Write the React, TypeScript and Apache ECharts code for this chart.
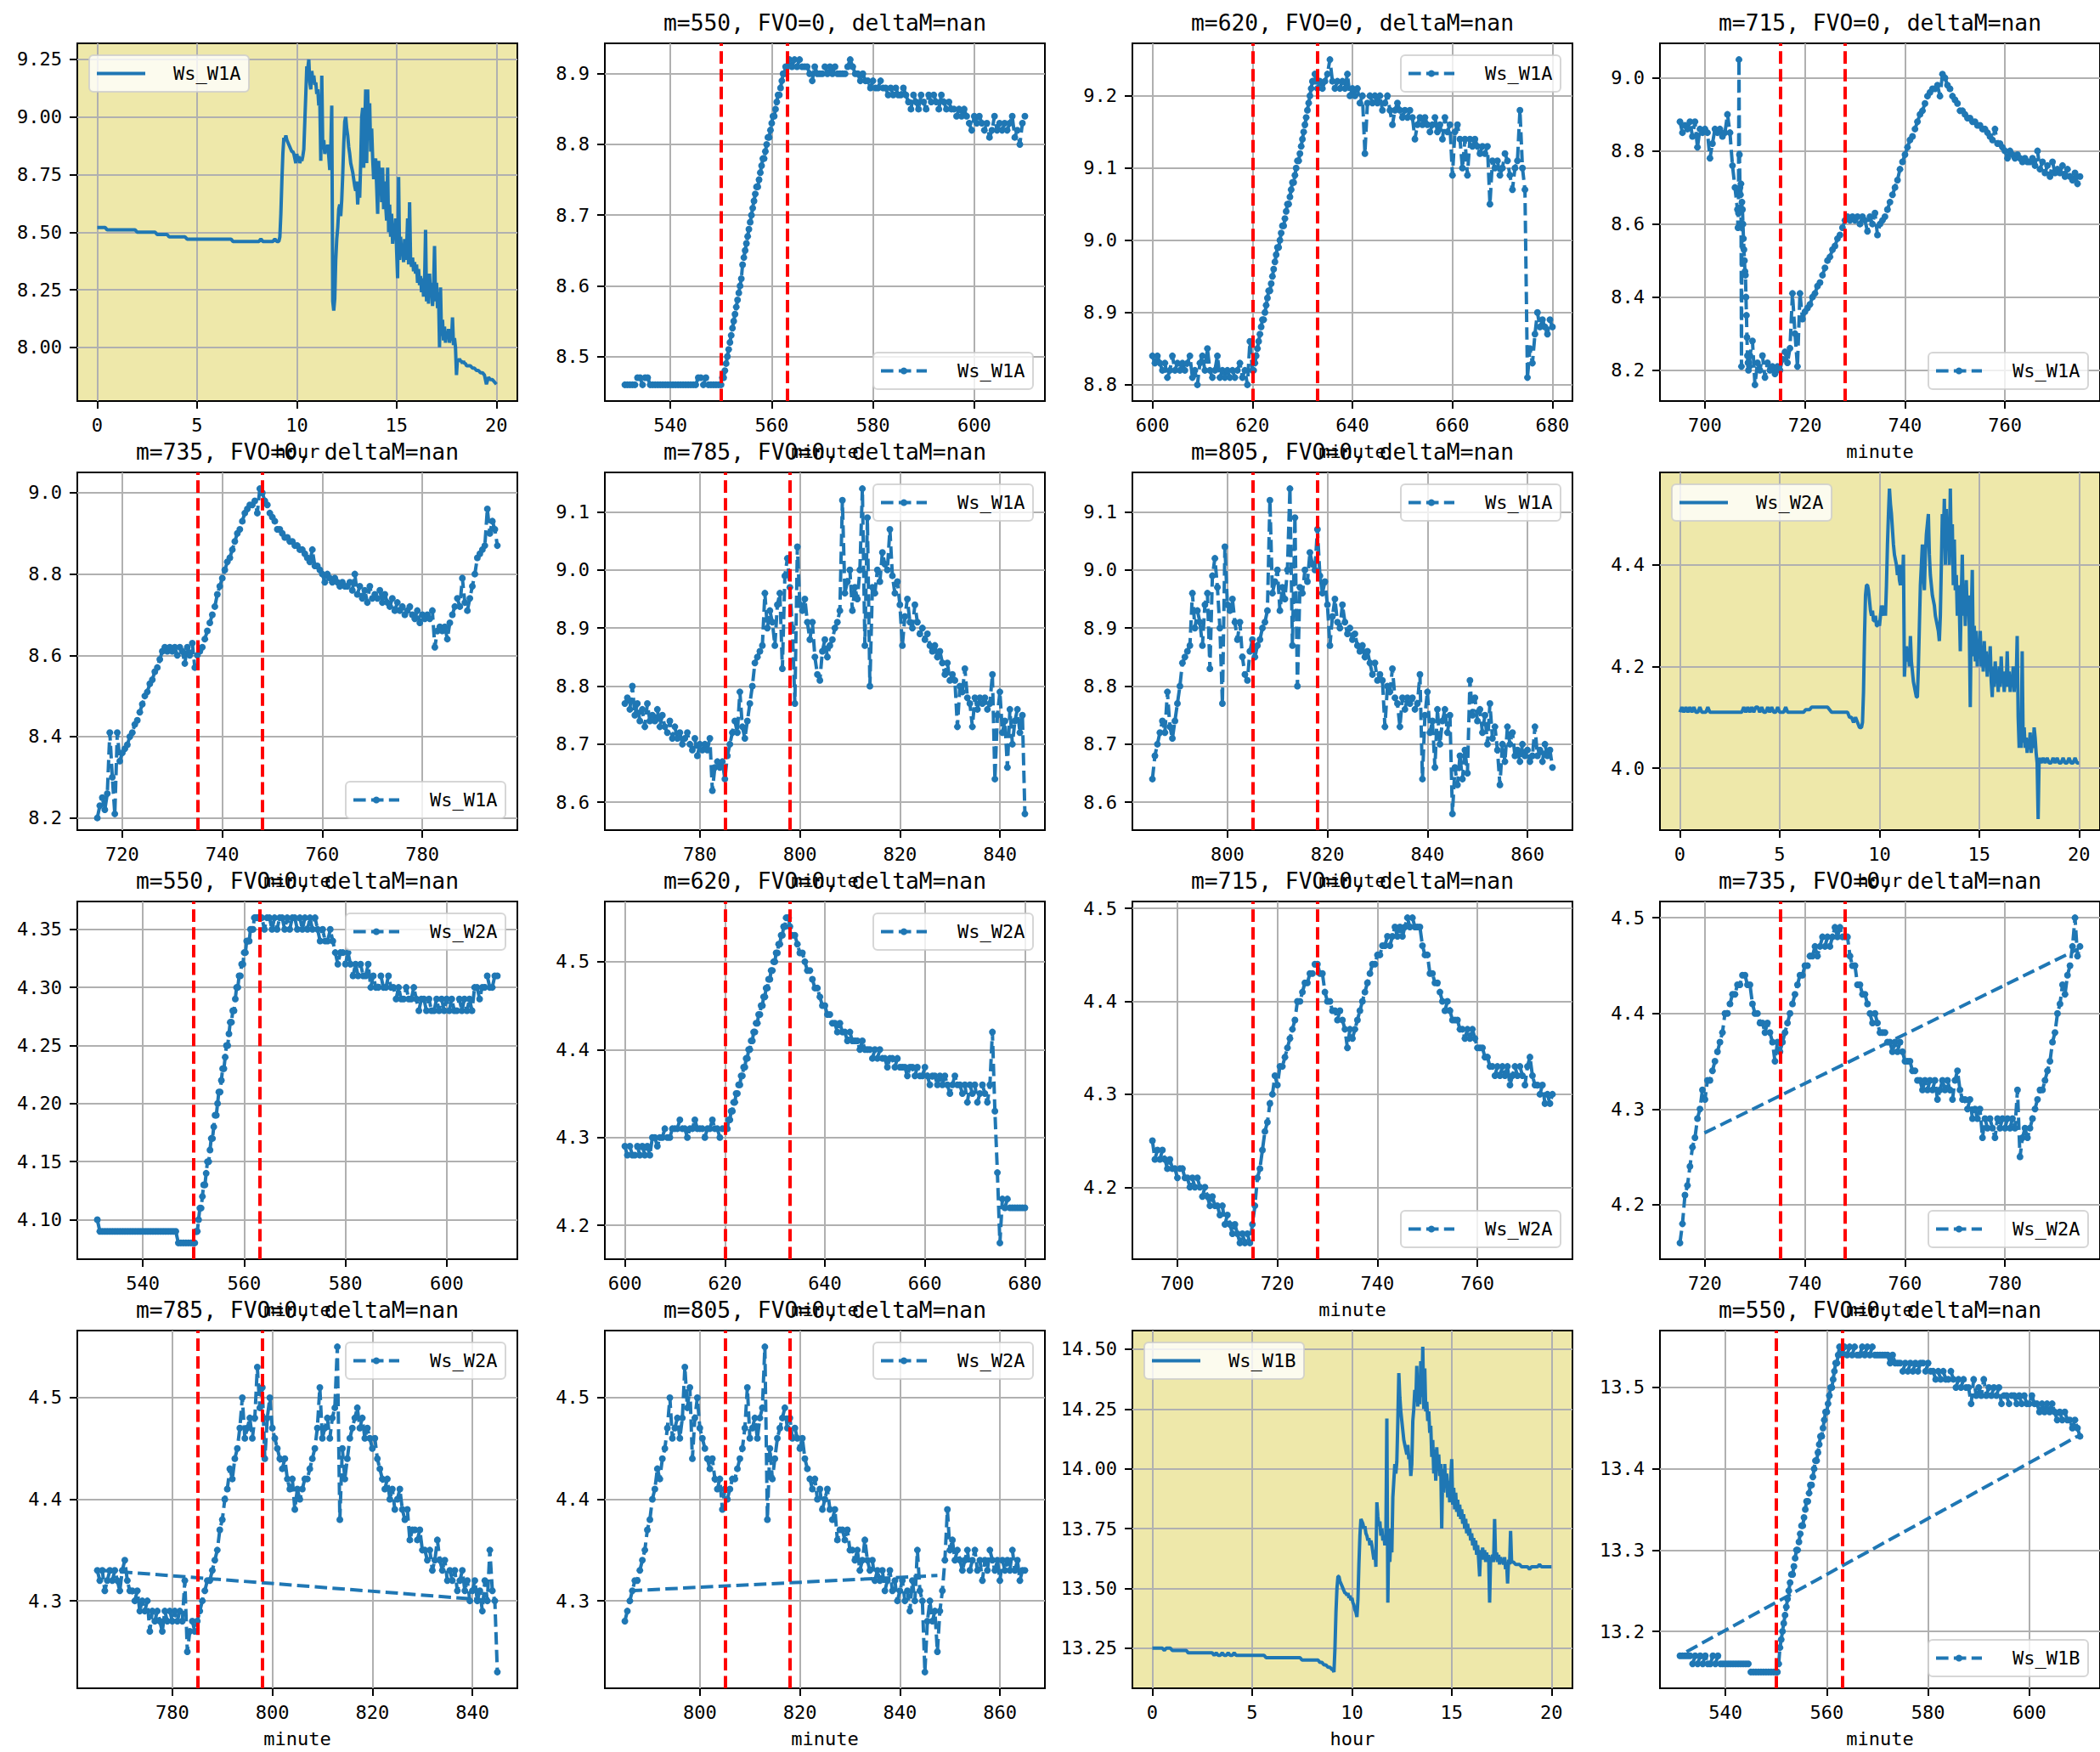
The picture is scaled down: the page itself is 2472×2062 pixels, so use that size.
import React, { useEffect, useRef } from "react";
import * as echarts from "echarts";

type Seg = [number, number, number[]];

// ---------------- data (minute panels) ----------------
const W1A_MIN: Seg[] = [
  [531, 0.5, [8.46, 8.46, 8.46, 8.46, 8.46, 8.47, 8.47, 8.46, 8.47, 8.47]],
  [536, 0.5, [8.46, 8.46, 8.46, 8.46, 8.46, 8.46, 8.46, 8.46, 8.46, 8.46]],
  [541, 0.5, [8.46, 8.46, 8.46, 8.46, 8.46, 8.46, 8.46, 8.46, 8.46, 8.47]],
  [546, 0.5, [8.47, 8.46, 8.47, 8.46, 8.46, 8.46, 8.46, 8.46, 8.46]],
  [550.25, 0.25, [8.47, 8.47, 8.48, 8.49, 8.5, 8.51, 8.52, 8.53]],
  [552.25, 0.25, [8.54, 8.55, 8.56, 8.57, 8.58, 8.59, 8.6, 8.61]],
  [554.25, 0.25, [8.63, 8.64, 8.65, 8.66, 8.67, 8.68, 8.69, 8.7]],
  [556.25, 0.25, [8.71, 8.72, 8.73, 8.74, 8.74, 8.75, 8.76, 8.77]],
  [558.25, 0.25, [8.78, 8.78, 8.79, 8.8, 8.81, 8.81, 8.82, 8.83]],
  [560.25, 0.25, [8.84, 8.84, 8.85, 8.86, 8.87, 8.87, 8.88, 8.89]],
  [562.25, 0.25, [8.9, 8.9, 8.91, 8.91]],
  [563.5, 0.5, [8.92, 8.91, 8.92, 8.91, 8.92, 8.91, 8.91, 8.91, 8.9, 8.89]],
  [568.5, 0.5, [8.91, 8.9, 8.9, 8.9, 8.91, 8.9, 8.91, 8.9, 8.91, 8.9]],
  [573.5, 0.5, [8.9, 8.9, 8.9, 8.91, 8.92, 8.91, 8.9, 8.9, 8.89, 8.9]],
  [578.5, 0.5, [8.89, 8.89, 8.88, 8.89, 8.88, 8.88, 8.89, 8.88, 8.88, 8.87]],
  [583.5, 0.5, [8.88, 8.87, 8.88, 8.87, 8.87, 8.88, 8.87, 8.86, 8.85, 8.87]],
  [588.5, 0.5, [8.86, 8.85, 8.87, 8.86, 8.85, 8.87, 8.86, 8.87, 8.86, 8.85]],
  [593.5, 0.5, [8.87, 8.86, 8.85, 8.86, 8.85, 8.85, 8.84, 8.85, 8.84, 8.85]],
  [598.5, 0.5, [8.84, 8.83, 8.82]],
  [600, 0.5, [8.84, 8.83, 8.84, 8.83, 8.82, 8.83, 8.81, 8.82, 8.84, 8.82]],
  [605, 0.5, [8.83, 8.82, 8.83, 8.82, 8.83, 8.84, 8.81, 8.82, 8.8, 8.83]],
  [610, 0.5, [8.84, 8.82, 8.85, 8.82, 8.81, 8.82, 8.84, 8.81, 8.82, 8.81]],
  [615, 0.5, [8.82, 8.81, 8.82, 8.81, 8.82, 8.83, 8.81, 8.82, 8.8, 8.86]],
  [620, 0.25, [8.82, 8.82, 8.83, 8.84, 8.85, 8.86, 8.87, 8.88]],
  [622, 0.25, [8.89, 8.89, 8.9, 8.91, 8.92, 8.93, 8.93, 8.94]],
  [624, 0.25, [8.95, 8.96, 8.97, 8.98, 8.99, 8.99, 9.0, 9.01]],
  [626, 0.25, [9.02, 9.02, 9.03, 9.04, 9.05, 9.05, 9.06, 9.07]],
  [628, 0.25, [9.08, 9.08, 9.09, 9.1, 9.11, 9.11, 9.12, 9.13]],
  [630, 0.25, [9.14, 9.15, 9.16, 9.17, 9.18, 9.19, 9.2, 9.21]],
  [632, 0.25, [9.22, 9.22, 9.23, 9.22]],
  [633, 0.5, [9.21, 9.22, 9.21, 9.22, 9.23, 9.25, 9.22, 9.21, 9.22, 9.21]],
  [638, 0.5, [9.22, 9.21, 9.23, 9.2, 9.21, 9.2, 9.21, 9.19, 9.2, 9.12]],
  [643, 0.5, [9.19, 9.2, 9.19, 9.2, 9.19, 9.2, 9.18, 9.19, 9.2, 9.18]],
  [648, 0.5, [9.16, 9.18, 9.19, 9.18, 9.17, 9.18, 9.17, 9.18, 9.17, 9.14]],
  [653, 0.5, [9.16, 9.17, 9.16, 9.17, 9.16, 9.15, 9.16, 9.17, 9.15, 9.16]],
  [658, 0.5, [9.14, 9.17, 9.15, 9.16, 9.09, 9.15, 9.16, 9.14, 9.1, 9.14]],
  [663, 0.5, [9.09, 9.14, 9.13, 9.14, 9.13, 9.12, 9.13, 9.12, 9.13, 9.05]],
  [668, 0.5, [9.11, 9.1, 9.11, 9.09, 9.1, 9.12, 9.11, 9.09, 9.07, 9.1]],
  [673, 0.5, [9.11, 9.18, 9.1, 9.07, 8.81, 8.85, 8.83, 8.87, 8.9, 8.88]],
  [678, 0.5, [8.89, 8.88, 8.87, 8.89, 8.88]],
  [695, 0.5, [8.88, 8.85, 8.87, 8.86, 8.88, 8.84, 8.88, 8.81, 8.86, 8.85]],
  [700, 0.5, [8.86, 8.85, 8.78, 8.82, 8.86, 8.85, 8.86, 8.84, 8.85, 8.9]],
  [705, 0.5, [8.85, 8.76, 8.7, 8.64]],
  [706.6, 0.1, [8.59, 8.63, 9.05, 8.79, 8.7, 8.68, 8.71, 8.21, 8.66, 8.64,
    8.6, 8.56, 8.53, 8.5, 8.47, 8.46, 8.4, 8.35, 8.29, 8.24,
    8.22, 8.2, 8.22, 8.21, 8.24]],
  [709.5, 0.5, [8.28, 8.16, 8.22, 8.2, 8.24, 8.18, 8.22, 8.2, 8.21, 8.19]],
  [714.5, 0.5, [8.21, 8.2, 8.23, 8.25, 8.22, 8.26, 8.41, 8.3, 8.21, 8.41]],
  [719.5, 0.5, [8.34, 8.36, 8.37, 8.38, 8.4, 8.41, 8.43, 8.44, 8.46, 8.48]],
  [724.5, 0.5, [8.5, 8.51, 8.53, 8.54, 8.56, 8.57, 8.59, 8.61, 8.62, 8.61]],
  [729.5, 0.5, [8.62, 8.61, 8.62, 8.6, 8.62, 8.61, 8.58, 8.62, 8.6, 8.63]],
  [734.5, 0.5, [8.57, 8.6, 8.61, 8.62, 8.64, 8.66, 8.68, 8.7, 8.72, 8.75]],
  [739.5, 0.5, [8.77, 8.79, 8.81, 8.83, 8.84, 8.86, 8.88, 8.9, 8.91, 8.93]],
  [744.5, 0.5, [8.95, 8.96, 8.97, 8.97, 8.98, 8.95, 9.01, 9.0, 8.98, 8.97]],
  [749.5, 0.5, [8.95, 8.94, 8.93, 8.91, 8.91, 8.9, 8.89, 8.89, 8.88, 8.88]],
  [754.5, 0.5, [8.87, 8.87, 8.86, 8.86, 8.85, 8.84, 8.83, 8.86, 8.82, 8.82]],
  [759.5, 0.5, [8.81, 8.8, 8.78, 8.8, 8.79, 8.78, 8.79, 8.78, 8.77, 8.78]],
  [764.5, 0.5, [8.77, 8.77, 8.78, 8.76, 8.8, 8.75, 8.77, 8.74, 8.76, 8.73]],
  [769.5, 0.5, [8.77, 8.74, 8.75, 8.74, 8.76, 8.73, 8.75, 8.73, 8.72, 8.74]],
  [774.5, 0.5, [8.71, 8.73, 8.71, 8.72, 8.7, 8.71, 8.72, 8.7, 8.69, 8.71]],
  [779.5, 0.5, [8.68, 8.7, 8.69, 8.7, 8.69, 8.71, 8.62, 8.66, 8.67, 8.66]],
  [784.5, 0.5, [8.67, 8.64, 8.68, 8.7, 8.72, 8.74, 8.72, 8.79, 8.73, 8.71]],
  [789.5, 0.5, [8.74, 8.77, 8.8, 8.84, 8.85, 8.86, 8.87, 8.96, 8.9, 8.93]],
  [794.5, 0.5, [8.91, 8.87, 8.94, 8.96, 8.83, 8.99, 9.02, 8.97, 8.9, 8.77]],
  [799.5, 0.5, [9.04, 8.94, 8.93, 8.95, 8.91, 8.88, 8.91, 8.85, 8.82, 8.81]],
  [804.5, 0.5, [8.86, 8.88, 8.85, 8.87, 8.88, 8.9, 8.91, 8.93, 9.12, 8.96]],
  [809.5, 0.5, [8.98, 9.0, 8.93, 8.97, 8.95, 9.0, 9.14, 8.87, 9.09, 8.8]],
  [814.5, 0.5, [8.97, 8.96, 9.0, 8.98, 9.03, 9.01, 9.0, 9.07, 8.99, 8.96]],
  [819.5, 0.5, [8.98, 8.94, 8.87, 8.92, 8.95, 8.91, 8.9, 8.94, 8.91, 8.89]],
  [824.5, 0.5, [8.9, 8.88, 8.89, 8.87, 8.86, 8.87, 8.85, 8.86, 8.84, 8.82]],
  [829.5, 0.5, [8.84, 8.81, 8.82, 8.81, 8.73, 8.8, 8.79, 8.83, 8.78, 8.77]],
  [834.5, 0.5, [8.73, 8.78, 8.76, 8.78, 8.77, 8.78, 8.76, 8.77, 8.82, 8.64]],
  [839.5, 0.5, [8.75, 8.79, 8.72, 8.74, 8.66, 8.76, 8.7, 8.74, 8.76, 8.72]],
  [844.5, 0.5, [8.75, 8.58, 8.66, 8.63, 8.68, 8.64, 8.69, 8.65, 8.81, 8.75]],
  [849.5, 0.5, [8.78, 8.74, 8.76, 8.72, 8.75, 8.7, 8.77, 8.71, 8.73, 8.69]],
  [854.5, 0.5, [8.63, 8.7, 8.67, 8.73, 8.7, 8.72, 8.68, 8.69, 8.67, 8.7]],
  [859.5, 0.5, [8.68, 8.69, 8.67, 8.68, 8.73, 8.68, 8.69, 8.67, 8.7, 8.68]],
  [864.5, 0.5, [8.69, 8.66]],
];

const W2A_MIN: Seg[] = [
  [531, 0.5, [4.1, 4.09, 4.09, 4.09, 4.09, 4.09, 4.09, 4.09, 4.09, 4.09]],
  [536, 0.5, [4.09, 4.09, 4.09, 4.09, 4.09, 4.09, 4.09, 4.09, 4.09, 4.09]],
  [541, 0.5, [4.09, 4.09, 4.09, 4.09, 4.09, 4.09, 4.09, 4.09, 4.09, 4.09]],
  [546, 0.5, [4.09, 4.09, 4.08, 4.08, 4.08, 4.08, 4.08, 4.08, 4.08]],
  [550.25, 0.25, [4.08, 4.09, 4.09, 4.1, 4.11, 4.11, 4.12, 4.13]],
  [552.25, 0.25, [4.13, 4.14, 4.15, 4.15, 4.16, 4.17, 4.17, 4.18]],
  [554.25, 0.25, [4.19, 4.19, 4.2, 4.21, 4.21, 4.22, 4.23, 4.23]],
  [556.25, 0.25, [4.24, 4.25, 4.25, 4.26, 4.27, 4.27, 4.28, 4.28]],
  [558.25, 0.25, [4.29, 4.3, 4.3, 4.31, 4.31, 4.32, 4.32, 4.33]],
  [560.25, 0.25, [4.33, 4.34, 4.34, 4.34, 4.35, 4.35, 4.35, 4.36]],
  [562.25, 0.25, [4.36, 4.36, 4.36, 4.36]],
  [563.5, 0.5, [4.36, 4.35, 4.36, 4.36, 4.35, 4.36, 4.35, 4.36, 4.36, 4.35]],
  [568.5, 0.5, [4.36, 4.35, 4.36, 4.36, 4.35, 4.36, 4.35, 4.36, 4.35, 4.36]],
  [573.5, 0.5, [4.35, 4.36, 4.35, 4.34, 4.35, 4.34, 4.34, 4.35, 4.34, 4.33]],
  [578.5, 0.5, [4.32, 4.33, 4.33, 4.32, 4.33, 4.32, 4.31, 4.32, 4.31, 4.32]],
  [583.5, 0.5, [4.31, 4.31, 4.32, 4.3, 4.31, 4.3, 4.3, 4.31, 4.3, 4.3]],
  [588.5, 0.5, [4.31, 4.3, 4.3, 4.29, 4.3, 4.29, 4.29, 4.3, 4.29, 4.29]],
  [593.5, 0.5, [4.3, 4.29, 4.28, 4.29, 4.29, 4.28, 4.29, 4.28, 4.28, 4.29]],
  [598.5, 0.5, [4.28, 4.29, 4.28]],
  [600, 0.5, [4.29, 4.28, 4.29, 4.28, 4.28, 4.29, 4.28, 4.29, 4.28, 4.29]],
  [605, 0.5, [4.28, 4.3, 4.3, 4.29, 4.3, 4.3, 4.31, 4.3, 4.3, 4.31]],
  [610, 0.5, [4.31, 4.31, 4.32, 4.31, 4.31, 4.3, 4.31, 4.31, 4.32, 4.31]],
  [615, 0.5, [4.31, 4.31, 4.3, 4.31, 4.31, 4.32, 4.31, 4.31, 4.3, 4.31]],
  [620, 0.25, [4.31, 4.31, 4.31, 4.32, 4.32, 4.33, 4.33, 4.34]],
  [622, 0.25, [4.34, 4.35, 4.35, 4.36, 4.36, 4.37, 4.37, 4.38]],
  [624, 0.25, [4.38, 4.39, 4.39, 4.4, 4.4, 4.41, 4.41, 4.42]],
  [626, 0.25, [4.42, 4.43, 4.43, 4.44, 4.44, 4.45, 4.45, 4.46]],
  [628, 0.25, [4.46, 4.47, 4.47, 4.48, 4.48, 4.49, 4.49, 4.5]],
  [630, 0.25, [4.5, 4.51, 4.51, 4.52, 4.52, 4.53, 4.53, 4.54]],
  [632, 0.25, [4.54, 4.55, 4.55, 4.55]],
  [633, 0.5, [4.54, 4.53, 4.53, 4.52, 4.51, 4.51, 4.5, 4.49, 4.49, 4.48]],
  [638, 0.5, [4.47, 4.47, 4.46, 4.45, 4.45, 4.44, 4.44, 4.43, 4.43, 4.42]],
  [643, 0.5, [4.43, 4.42, 4.42, 4.41, 4.42, 4.41, 4.41, 4.41, 4.4, 4.41]],
  [648, 0.5, [4.4, 4.4, 4.4, 4.39, 4.4, 4.39, 4.4, 4.39, 4.39, 4.38]],
  [653, 0.5, [4.39, 4.39, 4.38, 4.39, 4.38, 4.38, 4.38, 4.37, 4.38, 4.38]],
  [658, 0.5, [4.37, 4.38, 4.37, 4.37, 4.38, 4.37, 4.36, 4.37, 4.37, 4.36]],
  [663, 0.5, [4.37, 4.36, 4.37, 4.36, 4.35, 4.36, 4.37, 4.36, 4.36, 4.35]],
  [668, 0.5, [4.36, 4.34, 4.36, 4.35, 4.36, 4.34, 4.35, 4.36, 4.35, 4.34]],
  [673, 0.5, [4.36, 4.42, 4.33, 4.26, 4.18, 4.23, 4.22, 4.23, 4.22, 4.22]],
  [678, 0.5, [4.22, 4.22, 4.22, 4.22, 4.22]],
  [695, 0.5, [4.25, 4.23, 4.24, 4.23, 4.24, 4.23, 4.22, 4.23, 4.22, 4.22]],
  [700, 0.5, [4.21, 4.22, 4.22, 4.21, 4.21, 4.2, 4.21, 4.2, 4.21, 4.2]],
  [705, 0.5, [4.19, 4.2, 4.19, 4.18, 4.19, 4.18, 4.18, 4.17, 4.18, 4.16]],
  [710, 0.5, [4.17, 4.16, 4.15, 4.16, 4.15, 4.14, 4.15, 4.14, 4.15, 4.14]],
  [715, 0.5, [4.16, 4.18, 4.21, 4.22, 4.24, 4.26, 4.27, 4.29, 4.3, 4.32]],
  [720, 0.5, [4.31, 4.33, 4.33, 4.34, 4.35, 4.36, 4.37, 4.38, 4.4, 4.4]],
  [725, 0.5, [4.41, 4.42, 4.42, 4.43, 4.43, 4.44, 4.44, 4.43, 4.43, 4.41]],
  [730, 0.5, [4.4, 4.4, 4.39, 4.39, 4.38, 4.39, 4.38, 4.37, 4.35, 4.37]],
  [735, 0.5, [4.36, 4.37, 4.38, 4.39, 4.4, 4.41, 4.42, 4.43, 4.44, 4.44]],
  [740, 0.5, [4.45, 4.45, 4.46, 4.46, 4.47, 4.46, 4.47, 4.48, 4.47, 4.48]],
  [745, 0.5, [4.47, 4.48, 4.49, 4.48, 4.49, 4.48, 4.48, 4.48, 4.46, 4.45]],
  [750, 0.5, [4.45, 4.43, 4.43, 4.42, 4.42, 4.41, 4.4, 4.39, 4.4, 4.39]],
  [755, 0.5, [4.38, 4.38, 4.38, 4.37, 4.37, 4.36, 4.37, 4.36, 4.37, 4.36]],
  [760, 0.5, [4.35, 4.35, 4.35, 4.34, 4.34, 4.33, 4.33, 4.32, 4.33, 4.32]],
  [765, 0.5, [4.33, 4.32, 4.33, 4.31, 4.32, 4.33, 4.32, 4.33, 4.32, 4.31]],
  [770, 0.5, [4.33, 4.34, 4.32, 4.31, 4.31, 4.3, 4.31, 4.29, 4.3, 4.29]],
  [775, 0.5, [4.3, 4.27, 4.29, 4.28, 4.29, 4.28, 4.27, 4.29, 4.28, 4.29]],
  [780, 0.5, [4.28, 4.29, 4.28, 4.29, 4.28, 4.32, 4.25, 4.27, 4.28, 4.27]],
  [785, 0.5, [4.28, 4.29, 4.3, 4.31, 4.32, 4.32, 4.33, 4.34, 4.35, 4.37]],
  [790, 0.5, [4.38, 4.4, 4.41, 4.43, 4.42, 4.44, 4.45, 4.47, 4.5, 4.46]],
  [795, 0.5, [4.47, 4.48, 4.46, 4.48, 4.53, 4.49, 4.51, 4.44, 4.48, 4.5]],
  [800, 0.5, [4.47, 4.46, 4.45, 4.44, 4.43, 4.44, 4.42, 4.41, 4.42, 4.39]],
  [805, 0.5, [4.41, 4.4, 4.41, 4.42, 4.42, 4.43, 4.44, 4.45, 4.47, 4.51]],
  [810, 0.5, [4.46, 4.47, 4.48, 4.46, 4.48, 4.49, 4.55, 4.38, 4.45, 4.42]],
  [815, 0.5, [4.44, 4.46, 4.47, 4.48, 4.49, 4.47, 4.48, 4.46, 4.47, 4.46]],
  [820, 0.5, [4.45, 4.46, 4.44, 4.43, 4.42, 4.41, 4.42, 4.4, 4.41, 4.39]],
  [825, 0.5, [4.4, 4.41, 4.39, 4.38, 4.39, 4.36, 4.37, 4.37, 4.36, 4.37]],
  [830, 0.5, [4.35, 4.35, 4.34, 4.35, 4.33, 4.34, 4.36, 4.34, 4.33, 4.34]],
  [835, 0.5, [4.32, 4.33, 4.32, 4.33, 4.31, 4.32, 4.33, 4.31, 4.32, 4.3]],
  [840, 0.5, [4.31, 4.32, 4.3, 4.31, 4.29, 4.32, 4.3, 4.35, 4.31, 4.3]],
  [845, 0.5, [4.23, 4.28, 4.3, 4.28, 4.29, 4.25, 4.29, 4.31, 4.34, 4.39]],
  [850, 0.5, [4.35, 4.36, 4.34, 4.35, 4.34, 4.33, 4.34, 4.35, 4.33, 4.34]],
  [855, 0.5, [4.35, 4.33, 4.34, 4.32, 4.34, 4.33, 4.35, 4.34, 4.33, 4.34]],
  [860, 0.5, [4.32, 4.34, 4.33, 4.34, 4.33, 4.35, 4.33, 4.34, 4.32, 4.33]],
  [865, 0.5, [4.33]],
];

const W1B_MIN: Seg[] = [
  [531, 0.5, [13.17, 13.17, 13.17, 13.17, 13.17, 13.16, 13.17, 13.16, 13.17, 13.16]],
  [536, 0.5, [13.17, 13.16, 13.16, 13.17, 13.16, 13.17, 13.16, 13.16, 13.16, 13.16]],
  [541, 0.5, [13.16, 13.16, 13.16, 13.16, 13.16, 13.16, 13.16, 13.16, 13.15, 13.15]],
  [546, 0.5, [13.15, 13.15, 13.15, 13.15, 13.15, 13.15, 13.15, 13.15, 13.15]],
  [550.25, 0.25, [13.15, 13.16, 13.18, 13.19, 13.2, 13.21, 13.22, 13.23]],
  [552.25, 0.25, [13.24, 13.25, 13.26, 13.27, 13.27, 13.28, 13.29, 13.3]],
  [554.25, 0.25, [13.3, 13.31, 13.32, 13.33, 13.33, 13.34, 13.35, 13.36]],
  [556.25, 0.25, [13.36, 13.37, 13.38, 13.38, 13.39, 13.4, 13.41, 13.41]],
  [558.25, 0.25, [13.42, 13.43, 13.44, 13.44, 13.45, 13.46, 13.47, 13.47]],
  [560.25, 0.25, [13.48, 13.49, 13.5, 13.5, 13.51, 13.52, 13.53, 13.53]],
  [562.25, 0.25, [13.54, 13.55]],
  [563, 0.5, [13.54, 13.55, 13.54, 13.55, 13.54, 13.55, 13.54, 13.54, 13.55, 13.54]],
  [568, 0.5, [13.55, 13.54, 13.55, 13.54, 13.54, 13.54, 13.54, 13.54, 13.54, 13.53]],
  [573, 0.5, [13.54, 13.53, 13.53, 13.53, 13.52, 13.53, 13.52, 13.53, 13.52, 13.53]],
  [578, 0.5, [13.52, 13.53, 13.53, 13.52, 13.53, 13.52, 13.52, 13.51, 13.52, 13.51]],
  [583, 0.5, [13.52, 13.51, 13.51, 13.52, 13.51, 13.5, 13.51, 13.5, 13.51, 13.5]],
  [588, 0.5, [13.5, 13.48, 13.51, 13.49, 13.5, 13.49, 13.51, 13.49, 13.5, 13.49]],
  [593, 0.5, [13.5, 13.49, 13.5, 13.48, 13.49, 13.49, 13.48, 13.49, 13.49, 13.48]],
  [598, 0.5, [13.49, 13.48, 13.49, 13.48, 13.48, 13.49, 13.48, 13.48, 13.47, 13.48]],
  [603, 0.5, [13.47, 13.48, 13.47, 13.48, 13.47, 13.46, 13.47, 13.46, 13.47, 13.46]],
  [608, 0.5, [13.46, 13.45, 13.46, 13.45, 13.44]],
];

// ---------------- data (hour panels) ----------------
const W1A_HOUR: Seg[] = [
  [0, 0.1, [8.52, 8.52, 8.52, 8.52, 8.52, 8.51, 8.51, 8.51, 8.51, 8.51,
    8.51, 8.51, 8.51, 8.51, 8.51, 8.51, 8.51, 8.51, 8.51, 8.51,
    8.5, 8.5, 8.5, 8.5, 8.5, 8.5, 8.5, 8.5, 8.5, 8.5,
    8.49, 8.49, 8.49, 8.49, 8.49, 8.49, 8.48, 8.48, 8.48, 8.48,
    8.48, 8.48, 8.48, 8.48, 8.48, 8.47, 8.47, 8.47, 8.47, 8.47,
    8.47, 8.47, 8.47, 8.47, 8.47, 8.47, 8.47, 8.47, 8.47, 8.47,
    8.47, 8.47, 8.47, 8.47, 8.47, 8.47, 8.47, 8.47, 8.46, 8.46,
    8.46, 8.46, 8.46, 8.46, 8.46, 8.46, 8.46, 8.46, 8.46, 8.46,
    8.46, 8.46, 8.47, 8.46, 8.46, 8.46, 8.46, 8.46, 8.46, 8.47,
    8.46]],
  [9.05, 0.05, [8.46, 8.46, 8.48, 8.58, 8.72, 8.84, 8.91, 8.9, 8.92, 8.9,
    8.89, 8.88, 8.87, 8.86, 8.85, 8.85, 8.84, 8.82, 8.8, 8.84,
    8.81, 8.83, 8.8, 8.82, 8.81, 8.83, 8.86, 8.98, 9.1, 9.22,
    9.21, 9.25, 9.15, 9.12, 9.2, 9.16, 9.18, 9.14, 9.15, 9.1,
    9.12, 9.05, 9.08, 8.81, 9.18, 8.86, 8.9, 8.84, 8.87, 8.85,
    8.88, 8.83, 8.77, 8.86, 9.05, 8.2, 8.16, 8.21, 8.38, 8.47,
    8.52, 8.6, 8.62, 8.57, 8.64, 8.75, 8.88, 8.98, 9.0, 8.95,
    8.92, 8.87, 8.84, 8.8, 8.78, 8.76, 8.73, 8.7, 8.68, 8.72,
    8.62, 8.7, 8.65, 8.8, 9.0, 9.04, 8.78, 8.95, 9.12, 8.8,
    9.12, 8.9, 9.06, 8.85, 8.95, 8.82, 8.73, 8.8, 8.82, 8.7,
    8.58, 8.81, 8.66, 8.78, 8.63, 8.78, 8.6, 8.72, 8.62, 8.55,
    8.78, 8.5, 8.62, 8.48, 8.58, 8.45, 8.52, 8.47, 8.56, 8.42,
    8.3, 8.74, 8.38, 8.48, 8.4, 8.44, 8.37, 8.47, 8.38, 8.42,
    8.56, 8.36, 8.63, 8.38, 8.35, 8.39, 8.33, 8.37, 8.32, 8.36,
    8.28, 8.34, 8.27, 8.31, 8.24, 8.3, 8.22, 8.28, 8.51, 8.2,
    8.3, 8.19, 8.32, 8.22, 8.28, 8.18, 8.25, 8.44, 8.2, 8.28,
    8.17, 8.24, 8.0, 8.26, 8.05, 8.12, 8.03, 8.09, 8.02, 8.07,
    8.04, 8.08, 8.02, 8.06, 8.03, 8.13, 8.01, 8.04, 8.0, 7.88,
    7.95, 7.94, 7.95, 7.94, 7.94, 7.93, 7.94, 7.93, 7.93, 7.92]],
  [18.6, 0.1, [7.92, 7.92, 7.91, 7.91, 7.9, 7.9, 7.89, 7.89, 7.88, 7.84, 7.87, 7.86, 7.86, 7.85, 7.84]],
];

const W2A_HOUR: Seg[] = [
  [0, 0.1, [4.11, 4.12, 4.11, 4.12, 4.11, 4.12, 4.11, 4.12, 4.11, 4.11,
    4.12, 4.11, 4.11, 4.11, 4.12, 4.11, 4.11, 4.11, 4.11, 4.11,
    4.11, 4.11, 4.11, 4.11, 4.11, 4.11, 4.11, 4.11, 4.11, 4.11,
    4.11, 4.11, 4.12, 4.11, 4.12, 4.11, 4.12, 4.11, 4.12, 4.12,
    4.11, 4.12, 4.11, 4.11, 4.12, 4.11, 4.12, 4.11, 4.11, 4.12,
    4.11, 4.11, 4.11, 4.12, 4.11, 4.11, 4.11, 4.11, 4.11, 4.11,
    4.11, 4.11, 4.11, 4.115, 4.115, 4.115, 4.12, 4.12, 4.12, 4.12,
    4.12, 4.12, 4.12, 4.12, 4.12, 4.115, 4.11, 4.11, 4.11, 4.11,
    4.11, 4.11, 4.11, 4.11, 4.11, 4.1, 4.1, 4.09, 4.1, 4.09,
    4.08]],
  [9.05, 0.05, [4.08, 4.08, 4.09, 4.15, 4.26, 4.34, 4.36, 4.36, 4.35, 4.33,
    4.31, 4.3, 4.31, 4.29, 4.29, 4.3, 4.28, 4.28, 4.29, 4.28,
    4.3, 4.32, 4.31, 4.3, 4.32, 4.3, 4.36, 4.44, 4.5, 4.55,
    4.52, 4.5, 4.47, 4.44, 4.42, 4.41, 4.4, 4.38, 4.4, 4.37,
    4.36, 4.4, 4.36, 4.42, 4.18, 4.22, 4.24, 4.21, 4.23, 4.2,
    4.26, 4.21, 4.19, 4.17, 4.16, 4.15, 4.14, 4.14, 4.2, 4.28,
    4.36, 4.4, 4.44, 4.38, 4.35, 4.42, 4.46, 4.48, 4.5, 4.42,
    4.38, 4.36, 4.34, 4.33, 4.32, 4.3, 4.29, 4.28, 4.27, 4.25,
    4.3, 4.4, 4.5, 4.45, 4.53, 4.4, 4.51, 4.43, 4.49, 4.4,
    4.55, 4.42, 4.48, 4.36, 4.45, 4.35, 4.38, 4.3, 4.36, 4.32,
    4.23, 4.34, 4.42, 4.3, 4.36, 4.28, 4.37, 4.3, 4.34, 4.28,
    4.12, 4.3, 4.39, 4.22, 4.28, 4.21, 4.27, 4.2, 4.25, 4.22,
    4.27, 4.2, 4.24, 4.19, 4.25, 4.2, 4.23, 4.18, 4.22, 4.2,
    4.24, 4.17, 4.14, 4.2, 4.16, 4.21, 4.17, 4.19, 4.15, 4.2,
    4.16, 4.22, 4.17, 4.19, 4.15, 4.18, 4.16, 4.23, 4.16, 4.19,
    4.15, 4.18, 4.16, 4.2, 4.15, 4.19, 4.17, 4.26, 4.1, 4.04,
    4.07, 4.04, 4.23, 4.05, 4.08, 4.04, 4.06, 4.03, 4.05, 4.04,
    4.07, 4.03, 4.05, 4.04, 4.08, 4.06, 4.03, 4.01, 3.9, 4.02]],
  [18.1, 0.1, [4.01, 4.02, 4.01, 4.02, 4.01, 4.01, 4.02, 4.01, 4.02, 4.01,
    4.01, 4.02, 4.01, 4.01, 4.02, 4.01, 4.01, 4.02, 4.01, 4.01]],
];

const W1B_HOUR: Seg[] = [
  [0, 0.1, [13.25, 13.25, 13.25, 13.25, 13.25, 13.25, 13.24, 13.25, 13.25, 13.25,
    13.24, 13.24, 13.24, 13.24, 13.24, 13.24, 13.24, 13.24, 13.23, 13.23,
    13.23, 13.23, 13.23, 13.23, 13.23, 13.23, 13.23, 13.23, 13.23, 13.23,
    13.23, 13.22, 13.23, 13.22, 13.22, 13.23, 13.22, 13.22, 13.23, 13.22,
    13.22, 13.23, 13.22, 13.22, 13.22, 13.22, 13.22, 13.22, 13.22, 13.22,
    13.22, 13.22, 13.22, 13.22, 13.22, 13.22, 13.22, 13.21, 13.21, 13.21,
    13.21, 13.21, 13.21, 13.21, 13.21, 13.21, 13.21, 13.21, 13.21, 13.21,
    13.21, 13.21, 13.21, 13.21, 13.21, 13.2, 13.2, 13.2, 13.2, 13.2,
    13.2, 13.2, 13.2, 13.2, 13.19, 13.19, 13.18, 13.18, 13.17, 13.17,
    13.16]],
  [9.05, 0.05, [13.16, 13.15, 13.25, 13.4, 13.5, 13.55, 13.55, 13.53, 13.52, 13.51,
    13.5, 13.49, 13.48, 13.48, 13.47, 13.48, 13.46, 13.47, 13.45, 13.46,
    13.44, 13.43, 13.41, 13.4, 13.38, 13.45, 13.6, 13.72, 13.79, 13.78,
    13.77, 13.75, 13.76, 13.73, 13.72, 13.7, 13.71, 13.68, 13.7, 13.68,
    13.65, 13.62, 13.66, 13.59, 13.86, 13.8, 13.76, 13.78, 13.72, 13.75,
    13.7, 13.72, 13.68, 13.7, 14.21, 13.44, 13.75, 13.61, 13.72, 13.65,
    13.88, 13.95, 14.02, 13.98, 14.03, 14.2, 14.4, 14.3, 14.24, 14.2,
    14.16, 14.12, 14.1, 14.08, 14.06, 14.1, 14.04, 14.05, 13.97, 14.02,
    14.2, 14.25, 14.33, 14.28, 14.43, 14.26, 14.38, 14.27, 14.45, 14.3,
    14.51, 14.25, 14.42, 14.24, 14.28, 14.2, 14.24, 14.15, 14.18, 14.05,
    14.12, 13.98, 14.08, 13.95, 14.09, 14.0, 14.06, 13.97, 14.02, 13.75,
    14.0, 13.9, 14.02, 13.92, 13.98, 13.88, 13.95, 13.86, 13.96, 14.04,
    13.85, 13.92, 13.83, 13.9, 13.82, 13.87, 13.8, 13.85, 13.79, 13.83,
    13.77, 13.81, 13.75, 13.79, 13.73, 13.77, 13.72, 13.75, 13.7, 13.73,
    13.68, 13.71, 13.66, 13.7, 13.64, 13.68, 13.62, 13.55, 13.66, 13.63,
    13.67, 13.62, 13.66, 13.61, 13.65, 13.62, 13.64, 13.44, 13.63, 13.62,
    13.64, 13.61, 13.79, 13.62, 13.65, 13.61, 13.64, 13.6, 13.63, 13.61,
    13.62, 13.6, 13.63, 13.58, 13.61, 13.52, 13.62, 13.6, 13.74, 13.61]],
  [18.1, 0.1, [13.61, 13.6, 13.6, 13.6, 13.59, 13.59, 13.59, 13.59, 13.58, 13.59,
    13.59, 13.59, 13.59, 13.6, 13.59, 13.59, 13.59, 13.59, 13.59, 13.59]],
];

// stray connecting segments visible in some panels
const WRAP_W2A_735 = [[719.9, 4.275], [794.5, 4.467]];
const WRAP_W2A_785 = [[766, 4.33], [845, 4.3]];
const WRAP_W2A_805 = [[786, 4.31], [847.5, 4.325]];
const WRAP_W1B_550 = [[532.3, 13.175], [609.5, 13.44]];

// tick labels
const HOUR_TICKS = [0, 5, 10, 15, 20];
const MIN_TICKS_550 = [540, 560, 580, 600];
const MIN_TICKS_620 = [600, 620, 640, 660, 680];
const MIN_TICKS_715 = [700, 720, 740, 760];
const MIN_TICKS_735 = [720, 740, 760, 780];
const MIN_TICKS_785 = [780, 800, 820, 840];
const MIN_TICKS_805 = [800, 820, 840, 860];

// ---------------- helpers ----------------
function expand(segs: Seg[]): number[][] {
  const out: number[][] = [];
  segs.forEach(([s, st, vals]) => {
    vals.forEach((v, i) => out.push([Math.round((s + i * st) * 1000) / 1000, v]));
  });
  return out;
}

const W1A_M = expand(W1A_MIN);
const W2A_M = expand(W2A_MIN);
const W1B_M = expand(W1B_MIN);
const W1A_H = expand(W1A_HOUR);
const W2A_H = expand(W2A_HOUR);
const W1B_H = expand(W1B_HOUR);

type Loc = "ul" | "ur" | "lr";
interface Panel {
  kind: "hour" | "min";
  name: string;
  data: number[][];
  m?: number;
  win?: [number, number];
  x: [number, number];
  y: [number, number];
  xt: number[];
  yt: number[];
  yd: number;
  loc: Loc;
  wrap?: number[][];
}

const PANELS: Panel[] = [
  { kind: "hour", name: "Ws_W1A", data: W1A_H, x: [-1.0, 21.05], y: [7.767, 9.32], xt: HOUR_TICKS, yt: [8, 8.25, 8.5, 8.75, 9, 9.25], yd: 2, loc: "ul" },
  { kind: "min", name: "Ws_W1A", data: W1A_M, m: 550, win: [531, 610], x: [527.05, 613.95], y: [8.437, 8.943], xt: MIN_TICKS_550, yt: [8.5, 8.6, 8.7, 8.8, 8.9], yd: 1, loc: "lr" },
  { kind: "min", name: "Ws_W1A", data: W1A_M, m: 620, win: [600, 680], x: [596, 684], y: [8.7775, 9.2725], xt: MIN_TICKS_620, yt: [8.8, 8.9, 9.0, 9.1, 9.2], yd: 1, loc: "ur" },
  { kind: "min", name: "Ws_W1A", data: W1A_M, m: 715, win: [695, 775], x: [691, 779], y: [8.1155, 9.0945], xt: MIN_TICKS_715, yt: [8.2, 8.4, 8.6, 8.8, 9.0], yd: 1, loc: "lr" },
  { kind: "min", name: "Ws_W1A", data: W1A_M, m: 735, win: [715, 795], x: [711, 799], y: [8.17, 9.05], xt: MIN_TICKS_735, yt: [8.2, 8.4, 8.6, 8.8, 9.0], yd: 1, loc: "lr" },
  { kind: "min", name: "Ws_W1A", data: W1A_M, m: 785, win: [765, 845], x: [761, 849], y: [8.552, 9.168], xt: MIN_TICKS_785, yt: [8.6, 8.7, 8.8, 8.9, 9.0, 9.1], yd: 1, loc: "ur" },
  { kind: "min", name: "Ws_W1A", data: W1A_M, m: 805, win: [785, 865], x: [781, 869], y: [8.552, 9.168], xt: MIN_TICKS_805, yt: [8.6, 8.7, 8.8, 8.9, 9.0, 9.1], yd: 1, loc: "ur" },
  { kind: "hour", name: "Ws_W2A", data: W2A_H, x: [-1.0, 21.05], y: [3.878, 4.582], xt: HOUR_TICKS, yt: [4.0, 4.2, 4.4], yd: 1, loc: "ul" },
  { kind: "min", name: "Ws_W2A", data: W2A_M, m: 550, win: [531, 610], x: [527.05, 613.95], y: [4.066, 4.374], xt: MIN_TICKS_550, yt: [4.1, 4.15, 4.2, 4.25, 4.3, 4.35], yd: 2, loc: "ur" },
  { kind: "min", name: "Ws_W2A", data: W2A_M, m: 620, win: [600, 680], x: [596, 684], y: [4.1615, 4.5685], xt: MIN_TICKS_620, yt: [4.2, 4.3, 4.4, 4.5], yd: 1, loc: "ur" },
  { kind: "min", name: "Ws_W2A", data: W2A_M, m: 715, win: [695, 775], x: [691, 779], y: [4.1225, 4.5075], xt: MIN_TICKS_715, yt: [4.2, 4.3, 4.4, 4.5], yd: 1, loc: "lr" },
  { kind: "min", name: "Ws_W2A", data: W2A_M, m: 735, win: [715, 795], x: [711, 799], y: [4.143, 4.517], xt: MIN_TICKS_735, yt: [4.2, 4.3, 4.4, 4.5], yd: 1, loc: "lr", wrap: WRAP_W2A_735 },
  { kind: "min", name: "Ws_W2A", data: W2A_M, m: 785, win: [765, 845], x: [761, 849], y: [4.214, 4.566], xt: MIN_TICKS_785, yt: [4.3, 4.4, 4.5], yd: 1, loc: "ur", wrap: WRAP_W2A_785 },
  { kind: "min", name: "Ws_W2A", data: W2A_M, m: 805, win: [785, 865], x: [781, 869], y: [4.214, 4.566], xt: MIN_TICKS_805, yt: [4.3, 4.4, 4.5], yd: 1, loc: "ur", wrap: WRAP_W2A_805 },
  { kind: "hour", name: "Ws_W1B", data: W1B_H, x: [-1.0, 21.05], y: [13.082, 14.578], xt: HOUR_TICKS, yt: [13.25, 13.5, 13.75, 14.0, 14.25, 14.5], yd: 2, loc: "ul" },
  { kind: "min", name: "Ws_W1B", data: W1B_M, m: 550, win: [531, 610], x: [527.05, 613.95], y: [13.13, 13.57], xt: MIN_TICKS_550, yt: [13.2, 13.3, 13.4, 13.5], yd: 1, loc: "lr", wrap: WRAP_W1B_550 },
];

// ---------------- layout / style ----------------
const FONT = '"DejaVu Sans Mono", "Liberation Mono", monospace';
const BLUE = "#1f77b4";
const GX = [91, 712, 1333, 1954];
const GY = [51, 556, 1061, 1566];
const GW = 518;
const GH = 421;
const LW = 188;
const LH = 43;

function buildOption() {
  const grid: any[] = [];
  const xAxis: any[] = [];
  const yAxis: any[] = [];
  const series: any[] = [];
  const elements: any[] = [];

  PANELS.forEach((p, i) => {
    const r = Math.floor(i / 4);
    const c = i % 4;
    const left = GX[c];
    const top = GY[r];
    const isHour = p.kind === "hour";

    grid.push({
      left, top, width: GW, height: GH, containLabel: false, show: true,
      backgroundColor: isHour ? "#EEE8AA" : "#ffffff",
      borderColor: "#000", borderWidth: 2,
    });

    const axisCommon = {
      type: "value",
      gridIndex: i,
      axisLine: { show: false, onZero: false },
      splitLine: { show: true, lineStyle: { color: "#b0b0b0", width: 2 } },
    };

    xAxis.push({
      ...axisCommon,
      min: p.x[0], max: p.x[1],
      name: isHour ? "hour" : "minute",
      nameLocation: "middle", nameGap: 48,
      nameTextStyle: { fontSize: 22, fontFamily: FONT, color: "#000" },
      axisTick: { show: true, inside: false, length: 9, lineStyle: { color: "#000", width: 2 }, customValues: p.xt },
      axisLabel: { show: true, customValues: p.xt, fontSize: 22, fontFamily: FONT, color: "#000", margin: 17, formatter: (v: number) => String(v) },
    });

    yAxis.push({
      ...axisCommon,
      min: p.y[0], max: p.y[1],
      axisTick: { show: true, inside: false, length: 9, lineStyle: { color: "#000", width: 2 }, customValues: p.yt },
      axisLabel: { show: true, customValues: p.yt, fontSize: 22, fontFamily: FONT, color: "#000", margin: 18, formatter: (v: number) => v.toFixed(p.yd) },
    });

    const data = p.win
      ? p.data.filter((pt) => pt[0] >= p.win![0] - 1e-6 && pt[0] <= p.win![1] + 1e-6)
      : p.data;

    const s: any = {
      type: "line",
      name: p.name + "#" + i,
      xAxisIndex: i, yAxisIndex: i,
      data,
      silent: true, animation: false, clip: true, z: 3,
      showSymbol: !isHour, showAllSymbol: true,
      symbol: "circle", symbolSize: 8,
      itemStyle: { color: BLUE },
      lineStyle: isHour ? { color: BLUE, width: 4, type: "solid" } : { color: BLUE, width: 4, type: [14.6, 6.3] },
      emphasis: { disabled: true },
    };
    if (p.m !== undefined) {
      s.markLine = {
        symbol: ["none", "none"], silent: true, animation: false,
        label: { show: false },
        lineStyle: { color: "#ff0000", width: 4, type: [14.6, 6.3] },
        emphasis: { disabled: true },
        data: [{ xAxis: p.m }, { xAxis: p.m + 13 }],
      };
    }
    series.push(s);

    if (p.wrap) {
      series.push({
        type: "line", name: "wrap" + i, xAxisIndex: i, yAxisIndex: i,
        data: p.wrap, silent: true, animation: false, clip: true, z: 3,
        showSymbol: false,
        lineStyle: { color: BLUE, width: 4, type: [14.6, 6.3] },
        emphasis: { disabled: true },
      });
    }

    // title
    if (p.m !== undefined) {
      elements.push({
        type: "text", z: 100,
        x: left + GW / 2, y: top - 24,
        style: {
          text: `m=${p.m}, FVO=0, deltaM=nan`,
          font: `26.3px ${FONT}`, fill: "#000",
          textAlign: "center", textVerticalAlign: "middle",
        },
      });
    }

    // legend
    const bx = p.loc === "ul" ? left + 14 : left + GW - 14 - LW;
    const by = p.loc === "lr" ? top + GH - 14 - LH : top + 14;
    const cy = by + LH / 2;
    elements.push({
      type: "rect", z: 100,
      shape: { x: bx, y: by, width: LW, height: LH, r: 5 },
      style: { fill: "rgba(255,255,255,0.8)", stroke: "rgba(204,204,204,0.8)", lineWidth: 2 },
    });
    if (isHour) {
      elements.push({
        type: "line", z: 101,
        shape: { x1: bx + 9, y1: cy, x2: bx + 66, y2: cy },
        style: { stroke: BLUE, lineWidth: 4 },
      });
    } else {
      elements.push({
        type: "line", z: 101,
        shape: { x1: bx + 9, y1: cy, x2: bx + 63, y2: cy },
        style: { stroke: BLUE, lineWidth: 4, lineDash: [14.6, 6.3] },
      });
      elements.push({
        type: "circle", z: 102,
        shape: { cx: bx + 36, cy, r: 4 },
        style: { fill: BLUE },
      });
    }
    elements.push({
      type: "text", z: 101,
      x: bx + 99, y: cy,
      style: {
        text: p.name, font: `22px ${FONT}`, fill: "#000",
        textAlign: "left", textVerticalAlign: "middle",
      },
    });
  });

  return {
    animation: false,
    backgroundColor: "#ffffff",
    grid, xAxis, yAxis, series,
    graphic: { elements },
  };
}

export default function App() {
  const ref = useRef<HTMLDivElement>(null);
  useEffect(() => {
    if (!ref.current) return;
    const chart = echarts.init(ref.current, null, { renderer: "svg" });
    chart.setOption(buildOption() as any);
    return () => chart.dispose();
  }, []);
  return (
    <div
      ref={ref}
      style={{ position: "absolute", left: 0, top: 0, width: 2472, height: 2062, background: "#fff" }}
    />
  );
}
